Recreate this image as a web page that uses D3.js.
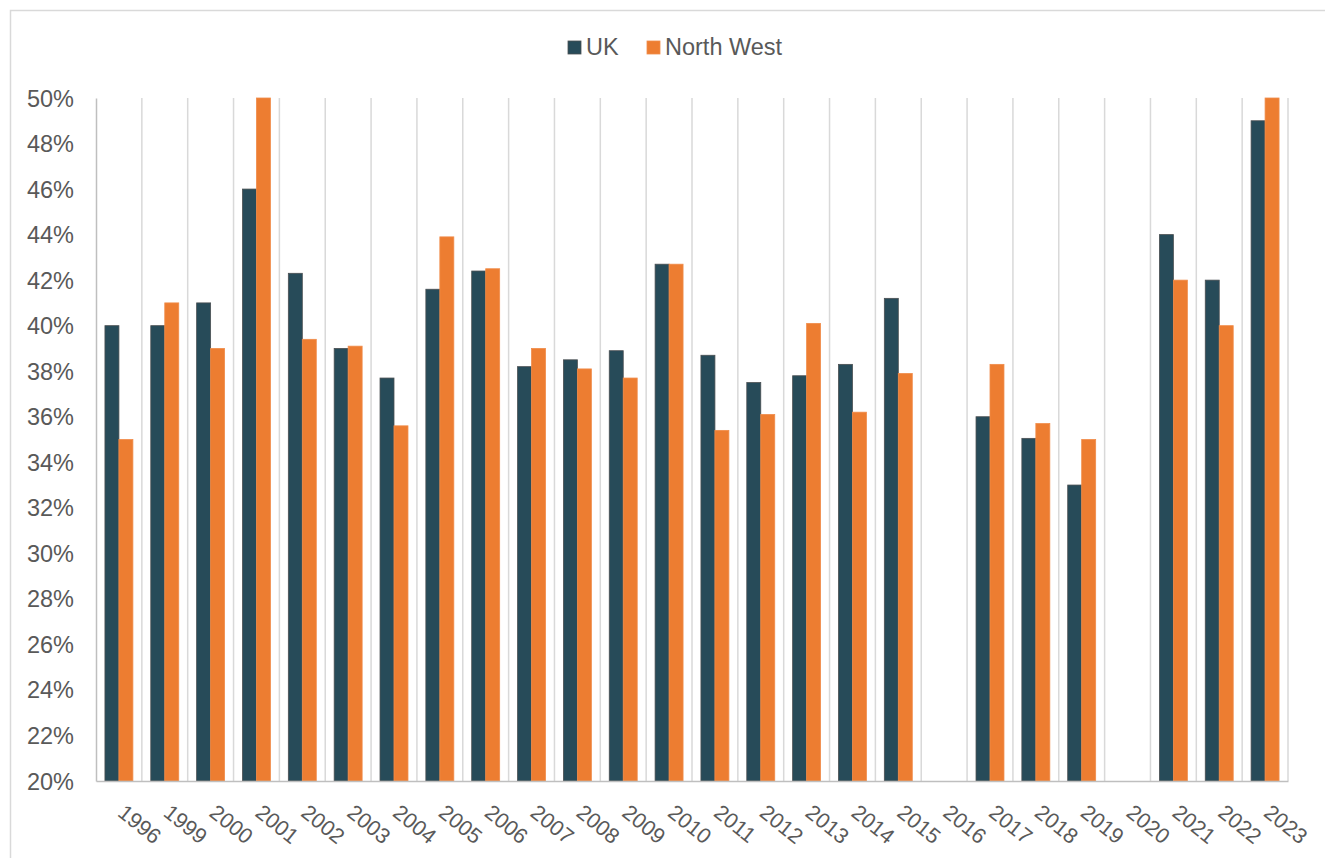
<!DOCTYPE html>
<html>
<head>
<meta charset="utf-8">
<script src="https://cdn.jsdelivr.net/npm/d3@7"></script>
<style>
  html, body { margin: 0; padding: 0; background: #fff; overflow: hidden; }
  svg { display: block; font-family: "Liberation Sans", Arial, sans-serif; }
</style>
</head>
<body>
<svg id="chart" width="1325" height="858"></svg>
<script>
const years = ["1996","1999","2000","2001","2002","2003","2004","2005","2006","2007","2008","2009","2010","2011","2012","2013","2014","2015","2016","2017","2018","2019","2020","2021","2022","2023"];
const ukValues = [40.0,40.0,41.0,46.0,42.3,39.0,37.7,41.6,42.4,38.2,38.5,38.9,42.7,38.7,37.5,37.8,38.3,41.2,null,36.0,35.05,33.0,null,44.0,42.0,49.0];
const nwValues = [35.0,41.0,39.0,50.0,39.4,39.1,35.6,43.9,42.5,39.0,38.1,37.7,42.7,35.4,36.1,40.1,36.2,37.9,null,38.3,35.7,35.0,null,42.0,40.0,50.0];
const seriesNames = ["UK","North West"];
const yTicks = [20,22,24,26,28,30,32,34,36,38,40,42,44,46,48,50];

const colors = {"UK": "#274b59", "North West": "#ed7d31"};
const strokes = {"UK": "#4a4f52", "North West": "#f08c4a"};

const svg = d3.select("#chart");
const W = 1325, H = 858;
const m = {left: 96, right: 1288, top: 98, bottom: 781};

// outer frame
svg.append("rect").attr("x", 10.5).attr("y", 10.5).attr("width", W + 20).attr("height", H + 20)
  .attr("fill", "#fff").attr("stroke", "#d9d9d9").attr("stroke-width", 1.5);

const x = d3.scaleBand().domain(years).range([m.left, m.right]).padding(0);
const x1 = d3.scaleBand().domain(seriesNames).range([0, x.bandwidth()]).paddingInner(0).paddingOuter(0.64);
const y = d3.scaleLinear().domain([20, 50]).range([m.bottom, m.top]).clamp(true);

// vertical gridlines at category boundaries
const bounds = years.map(d => x(d) + x.bandwidth());
svg.append("g").selectAll("line").data(bounds).join("line")
  .attr("x1", d => d).attr("x2", d => d)
  .attr("y1", m.top).attr("y2", m.bottom)
  .attr("stroke", "#d9d9d9").attr("stroke-width", 1.5);

// bars
const data = [];
years.forEach((yr, i) => {
  data.push({year: yr, s: "UK", v: ukValues[i]});
  data.push({year: yr, s: "North West", v: nwValues[i]});
});
svg.append("g").selectAll("rect").data(data.filter(d => d.v != null)).join("rect")
  .attr("x", d => x(d.year) + x1(d.s))
  .attr("width", x1.bandwidth())
  .attr("y", d => y(d.v))
  .attr("height", d => y(20) - y(d.v))
  .attr("fill", d => colors[d.s])
  .attr("stroke", d => strokes[d.s])
  .attr("stroke-width", 0.8);

// y axis
const yAxis = d3.axisLeft(y).tickValues(yTicks).tickSize(0).tickPadding(22).tickFormat(d => d + "%");
const gy = svg.append("g").attr("transform", `translate(${m.left},0)`).call(yAxis);
gy.select(".domain").attr("stroke", "#bfbfbf").attr("stroke-width", 1.5);
gy.selectAll("text").attr("fill", "#595959").style("font-size", "23.5px").attr("dy", "0.34em");

// x axis
const xAxis = d3.axisBottom(x).tickSize(0).tickPadding(0);
const gx = svg.append("g").attr("transform", `translate(0,${m.bottom})`).call(xAxis);
gx.select(".domain").attr("stroke", "#bfbfbf").attr("stroke-width", 1.5);
gx.selectAll("text")
  .attr("fill", "#595959").style("font-size", "21.5px")
  .attr("text-anchor", "start")
  .attr("dy", 0).attr("y", 0)
  .attr("transform", "translate(-2.5,34) rotate(39)");

// legend
const legend = svg.append("g");
const legItems = [{s: "UK", x: 568, tx: 586}, {s: "North West", x: 647, tx: 665}];
legItems.forEach(it => {
  legend.append("rect").attr("x", it.x).attr("y", 41).attr("width", 13).attr("height", 13)
    .attr("fill", colors[it.s]).attr("stroke", strokes[it.s]).attr("stroke-width", 0.8);
  legend.append("text").attr("x", it.tx).attr("y", 55).text(it.s)
    .attr("fill", "#595959").style("font-size", "23.5px");
});
</script>
</body>
</html>
